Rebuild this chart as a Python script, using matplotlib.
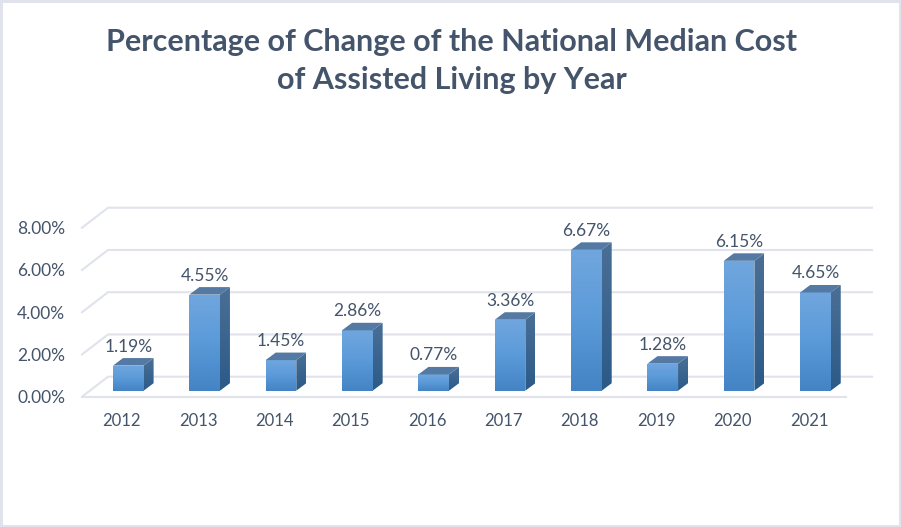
#!/usr/bin/env python3
"""Percentage of change of the national median cost of assisted living, drawn as pseudo-3D bars."""
import numpy as np
import matplotlib

matplotlib.use("Agg")
import matplotlib.pyplot as plt
from matplotlib.colors import LinearSegmentedColormap
from matplotlib.patches import Polygon, Rectangle

YEARS = ["2012", "2013", "2014", "2015", "2016", "2017", "2018", "2019", "2020", "2021"]
CHANGE = [1.19, 4.55, 1.45, 2.86, 0.77, 3.36, 6.67, 1.28, 6.15, 4.65]
Y_TICKS = [0, 2, 4, 6, 8]
TITLE = "Percentage of Change of the National Median Cost\nof Assisted Living by Year"

W, H = 901, 527
X0, DX = 128.3, 76.35  # pixel of first bar centre, pixels per category
Y0, DY = 390.7, 21.12  # pixel of bar base, pixels per percent

TEXT = "#44546a"
GRID = "#e0e3ec"
BAR_HALF = 15.3 / DX
DEPTH_X = 10 / DX
DEPTH_Y = 7.5 / DY
WALL_Y = 14 / DY  # back wall zero sits above the bar base
FLOOR_Y = -6 / DY  # front floor edge sits below the bar base
WALL_L, WALL_R = (108 - X0) / DX, (872 - X0) / DX
FRONT_L, FRONT_R = (82 - X0) / DX, (846 - X0) / DX

plt.rcParams["font.family"] = ["Lato", "DejaVu Sans"]

FRONT_CM = LinearSegmentedColormap.from_list("front", ["#70a6de", "#5b9ad9", "#4484c4"])
SIDE_CM = LinearSegmentedColormap.from_list("side", ["#4a6f96", "#2b5a88"])
RAMP = np.linspace(0, 1, 64).reshape(-1, 1)


def gradient(ax, cmap, corners):
    # paint a vertical ramp and clip it to the face outline
    poly = Polygon(corners, closed=True, fc="none", ec="none", transform=ax.transData)
    ax.add_patch(poly)
    xs, ys = zip(*corners)
    im = ax.imshow(RAMP, cmap=cmap, aspect="auto", zorder=3, interpolation="bilinear",
                   extent=(min(xs), max(xs), min(ys), max(ys)))
    im.set_clip_path(poly)


fig = plt.figure(figsize=(W / 100, H / 100), dpi=100)
ax = fig.add_axes([0, 0, 1, 1])
ax.axis("off")

# back wall gridlines and the slanted lines running to the front
for t in Y_TICKS:
    ax.plot([FRONT_L, WALL_L, WALL_R], [t + FLOOR_Y, t + WALL_Y, t + WALL_Y], color=GRID, lw=1.5, zorder=1,
            solid_joinstyle="miter")
    ax.text((65 - X0) / DX, t + FLOOR_Y - 1.5 / DY, f"{t:.2f}%", ha="right", va="center", color=TEXT, fontsize=12.5)
ax.plot([FRONT_L, FRONT_R], [FLOOR_Y, FLOOR_Y], color=GRID, lw=1.5, zorder=1)

for i, (year, v) in enumerate(zip(YEARS, CHANGE)):
    l, r = i - BAR_HALF, i + BAR_HALF
    gradient(ax, FRONT_CM, [(l, 0), (r, 0), (r, v), (l, v)])
    gradient(ax, SIDE_CM, [(r, 0), (r + DEPTH_X, DEPTH_Y), (r + DEPTH_X, v + DEPTH_Y), (r, v)])
    ax.add_patch(Polygon([(l, v), (r, v), (r + DEPTH_X, v + DEPTH_Y), (l + DEPTH_X, v + DEPTH_Y)],
                         closed=True, fc="#5479a3", ec="none", zorder=3))
    ax.text(i, v + 19 / DY, f"{v:.2f}%", ha="center", va="center", color=TEXT, fontsize=12.5, zorder=4)
    ax.text(i - 6.5 / DX, -30 / DY, year, ha="center", va="center", color=TEXT, fontsize=12)

ax.set_xlim((0 - X0) / DX, (W - X0) / DX)
ax.set_ylim((Y0 - H) / DY, Y0 / DY)

fig.text(452 / W, 1 - 61 / H, TITLE, ha="center", va="center", color=TEXT, fontsize=22,
         fontweight="bold", linespacing=1.44)

# slide border
fig.add_artist(Rectangle((0, 0), 1, 1, transform=fig.transFigure, fc="none", ec=GRID, lw=3.5))

fig.savefig("out.png", dpi=100)
